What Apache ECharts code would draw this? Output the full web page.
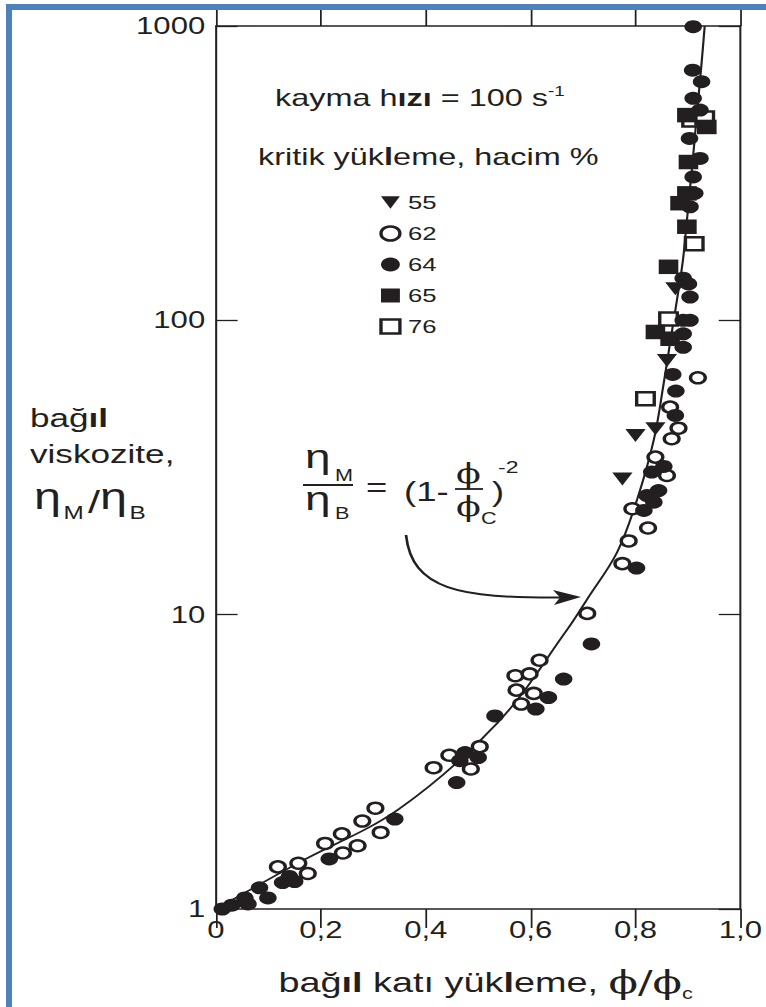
<!DOCTYPE html>
<html>
<head>
<meta charset="utf-8">
<script src="https://cdn.jsdelivr.net/npm/echarts@6/dist/echarts.min.js"></script>
<style>
html,body{margin:0;padding:0;background:#fff;width:766px;height:1007px;overflow:hidden;}
#chart{position:absolute;left:0;top:0;width:567px;height:1007px;transform:scaleX(1.351);transform-origin:0 0;}
#frame{position:absolute;left:6px;top:4px;width:900px;height:1100px;border-left:6px solid #4f81bd;border-top:6px solid #4f81bd;pointer-events:none;}
</style>
</head>
<body>
<div id="chart"></div>
<div id="frame"></div>
<script>
// ---- data (relative loading phi/phi_c, relative viscosity eta_M/eta_B) ----
const xTickLabels = ['0', '0,2', '0,4', '0,6', '0,8', '1,0'];
const yTickLabels = ['1', '10', '100', '1000'];
const legendNames = ['55', '62', '64', '65', '76'];

const load55 = [[0.775,28.9],[0.800,40.6],[0.838,42.8],[0.860,73],[0.876,128]];

const load62 = [
  [0.118,1.39],[0.157,1.43],[0.175,1.32],[0.208,1.67],[0.240,1.80],[0.242,1.55],[0.270,1.64],[0.279,1.99],[0.304,2.20],[0.314,1.82],
  [0.415,3.02],[0.445,3.33],[0.486,2.99],[0.503,3.56],[0.571,6.2],[0.573,5.54],[0.582,4.97],[0.598,6.29],[0.606,5.40],[0.617,7.0],
  [0.708,10.1],[0.775,14.9],[0.787,17.8],[0.794,22.9],[0.824,19.7],[0.838,34.3],[0.860,29.7],[0.869,39.6],[0.882,43.0],[0.866,50.7],[0.919,63.8]
];

const load64 = [
  [0.012,1.0],[0.030,1.03],[0.055,1.09],[0.061,1.04],[0.083,1.18],[0.099,1.09],[0.127,1.23],[0.140,1.29],[0.150,1.24],[0.216,1.48],
  [0.341,2.02],[0.459,2.69],[0.465,3.19],[0.475,3.40],[0.500,3.27],[0.532,4.53],[0.610,4.78],[0.634,5.23],[0.663,6.04],[0.716,7.95],
  [0.802,14.4],[0.816,22.6],[0.822,25.4],[0.835,24.1],[0.844,26.4],[0.831,30.5],[0.854,31.9],[0.876,47.5],[0.877,57.5],[0.871,65.5],
  [0.891,81],[0.891,90],[0.891,100],[0.904,100],[0.904,120],[0.901,133],[0.891,139],[0.904,243],[0.913,270],[0.910,307],
  [0.923,355],[0.903,415],[0.923,518],[0.910,568],[0.926,647],[0.909,708],[0.910,995]
];

const load65 = [[0.838,91.3],[0.866,86.6],[0.863,152],[0.898,208],[0.885,250],[0.898,270],[0.901,345],[0.936,454],[0.898,498]];

const load76 = [[0.819,54.1],[0.863,101],[0.912,182],[0.907,479],[0.932,487]];

// fitted curve
const curvePhi = [0, 0.159, 0.348, 0.538, 0.670, 0.708, 0.765, 0.803, 0.835, 0.854, 0.866, 0.879, 0.892, 0.926, 0.932];
const curveEta = [1, 1.44, 2.18, 4.31, 8.91, 11.3, 16.3, 24.6, 39.3, 61.4, 84, 117, 169, 748, 1000];

// ---- styling ----
const INK = '#231f20';
const SANS = 'Liberation Sans';
const SERIF = 'DejaVu Serif';
const S = 1.351; // horizontal stretch of the original figure
const u = v => v / S;
const triPath = 'path://M0,0L20,0L10,18Z';

const curve = curvePhi.map((p, i) => [p, curveEta[i]]);

function T(x, y, text, size, extra) {
  return {
    type: 'text', x: x, y: y, silent: true, z: 50,
    style: Object.assign({ text: text, fontSize: size, fontFamily: SANS, fill: INK, align: 'left', verticalAlign: 'middle' }, (extra || {}))
  };
}
function L(x1, y1, x2, y2, w) {
  return { type: 'line', silent: true, z: 50, shape: { x1: x1, y1: y1, x2: x2, y2: y2 }, style: { stroke: INK, lineWidth: w } };
}

const axisLineStyle = { show: true, onZero: false, lineStyle: { color: INK, width: 1.5 } };
const tickStyle = { color: INK, width: 1.3 };

const chart = echarts.init(document.getElementById('chart'), null, { renderer: 'svg' });

const option = {
  animation: false,
  backgroundColor: 'transparent',
  textStyle: { fontFamily: SANS, color: INK },
  grid: { left: u(216), top: 26, width: u(744) - u(216), height: 884, containLabel: false },
  xAxis: [
    {
      type: 'value', min: 0, max: 1, interval: 0.2, position: 'bottom',
      axisLine: axisLineStyle,
      axisTick: { show: true, inside: false, length: 19, lineStyle: tickStyle },
      splitLine: { show: false },
      axisLabel: {
        fontSize: 23, color: INK, fontFamily: SANS, margin: 10,
        formatter: v => xTickLabels[Math.round(v / 0.2)] || ''
      },
      name: '{a|bağ}{b|ıl}{a| katı yük}{b|l}{a|eme, }{p|ϕ/ϕ}{c|c}',
      nameLocation: 'middle', nameGap: 53,
      nameTextStyle: {
        padding: [0, 0, 0, 11],
        rich: {
          a: { fontSize: 28, fontFamily: SANS, color: INK, lineHeight: 40, verticalAlign: 'middle' },
          b: { fontSize: 28, fontFamily: SANS, fontWeight: 'bold', color: INK, lineHeight: 40, verticalAlign: 'middle' },
          p: { fontSize: 32, fontFamily: SERIF, color: INK, lineHeight: 40, verticalAlign: 'middle' },
          c: { fontSize: 16, fontFamily: SANS, color: INK, lineHeight: 18, verticalAlign: 'bottom' }
        }
      }
    },
    {
      type: 'value', min: 0, max: 1, interval: 0.2, position: 'top',
      axisLine: axisLineStyle,
      axisTick: { show: true, inside: false, length: 18, lineStyle: tickStyle },
      splitLine: { show: false },
      axisLabel: { show: false }
    }
  ],
  yAxis: [
    {
      type: 'log', logBase: 10, min: 1, max: 1000, position: 'left',
      axisLine: axisLineStyle,
      axisTick: { show: true, inside: true, length: 16, lineStyle: tickStyle },
      minorTick: { show: false },
      splitLine: { show: false },
      axisLabel: {
        fontSize: 23, color: INK, fontFamily: SANS, margin: 8,
        formatter: v => yTickLabels[Math.round(Math.log10(v))] || ''
      }
    },
    {
      type: 'log', logBase: 10, min: 1, max: 1000, position: 'right',
      axisLine: axisLineStyle,
      axisTick: { show: true, inside: true, length: 16, lineStyle: tickStyle },
      minorTick: { show: false },
      splitLine: { show: false },
      axisLabel: { show: false }
    }
  ],
  legend: {
    orient: 'vertical', left: u(382) - 7, top: 188,
    itemWidth: 14, itemHeight: 14, itemGap: 12,
    selectedMode: false,
    textStyle: { fontFamily: SANS, fontSize: 19, color: INK, padding: [0, 0, 0, 1] },
    data: [
      { name: legendNames[0], icon: triPath, itemStyle: { color: INK, borderWidth: 0 } },
      { name: legendNames[1], icon: 'circle', itemStyle: { color: '#fff', borderColor: INK, borderWidth: 2.5 } },
      { name: legendNames[2], icon: 'circle', itemStyle: { color: INK, borderWidth: 0 } },
      { name: legendNames[3], icon: 'rect', itemStyle: { color: INK, borderWidth: 0 } },
      { name: legendNames[4], icon: 'rect', itemStyle: { color: '#fff', borderColor: INK, borderWidth: 2.5 } }
    ]
  },
  series: [
    {
      name: 'fit', type: 'line', data: curve, showSymbol: false, symbol: 'none',
      smooth: 0.35, silent: true, z: 1,
      lineStyle: { color: INK, width: 1.6 }
    },
    {
      name: legendNames[4], type: 'scatter', data: load76, symbol: 'rect', symbolSize: 13, z: 2,
      itemStyle: { color: '#fff', borderColor: INK, borderWidth: 2.5, opacity: 1 }
    },
    {
      name: legendNames[1], type: 'scatter', data: load62, symbol: 'circle', symbolSize: 11, z: 3,
      itemStyle: { color: '#fff', borderColor: INK, borderWidth: 2.5, opacity: 1 }
    },
    {
      name: legendNames[0], type: 'scatter', data: load55, symbol: triPath, symbolSize: [15, 13], z: 4,
      itemStyle: { color: INK, opacity: 1 }
    },
    {
      name: legendNames[3], type: 'scatter', data: load65, symbol: 'rect', symbolSize: 14.5, z: 4,
      itemStyle: { color: INK, opacity: 1 }
    },
    {
      name: legendNames[2], type: 'scatter', data: load64, symbol: 'circle', symbolSize: 13, z: 5,
      itemStyle: { color: INK, opacity: 1 }
    }
  ],
  graphic: [
    // header texts
    T(u(275), 98, '{a|kayma h}{b|ızı}{a| = 100 s}{s|-1}', 24, {
      rich: {
        a: { fontSize: 24, fontFamily: SANS, fill: INK, lineHeight: 28 },
        b: { fontSize: 24, fontFamily: SANS, fontWeight: 'bold', fill: INK, lineHeight: 28 },
        s: { fontSize: 14, fontFamily: SANS, fill: INK, lineHeight: 19, verticalAlign: 'top' }
      }
    }),
    T(u(258), 157, '{a|kritik yük}{b|l}{a|eme, hacim %}', 24, {
      rich: {
        a: { fontSize: 24, fontFamily: SANS, fill: INK, lineHeight: 28 },
        b: { fontSize: 24, fontFamily: SANS, fontWeight: 'bold', fill: INK, lineHeight: 28 }
      }
    }),
    // y-axis title
    T(u(30), 418, '{a|bağ}{b|ıl}', 26, {
      rich: {
        a: { fontSize: 26, fontFamily: SANS, fill: INK, lineHeight: 30 },
        b: { fontSize: 26, fontFamily: SANS, fontWeight: 'bold', fill: INK, lineHeight: 30 }
      }
    }),
    T(u(30), 454, 'viskozite,', 26),
    T(u(34), 496, 'η', 36),
    T(u(63.5), 513, 'M', 18),
    T(u(88), 502, '/', 32),
    T(u(100), 496, 'η', 36),
    T(u(129.5), 513, 'B', 18),
    // equation
    T(u(305), 456, 'η', 34),
    T(u(335), 476, 'M', 16),
    L(u(303), 485, u(353), 485, 1.8),
    T(u(305), 498, 'η', 34),
    T(u(335), 514, 'B', 16),
    T(u(366), 488, '=', 27),
    T(u(404), 492, '(1-', 27),
    T(u(456), 474, 'ϕ', 27, { fontFamily: SERIF }),
    L(u(455), 489, u(483), 489, 1.8),
    T(u(456), 507, 'ϕ', 27, { fontFamily: SERIF }),
    T(u(481), 519, 'C', 16),
    T(u(492), 492, ')', 27),
    T(u(498), 467, '-2', 17),
    // arrow
    {
      type: 'bezierCurve', silent: true, z: 50,
      shape: { x1: u(406), y1: 535, cpx1: u(412), cpy1: 590, cpx2: u(460), cpy2: 598, x2: u(560), y2: 597.5 },
      style: { stroke: INK, lineWidth: 2, fill: null }
    },
    {
      type: 'polygon', silent: true, z: 50,
      shape: { points: [[u(581), 597], [u(553), 590], [u(560), 597.5], [u(554), 605]] },
      style: { fill: INK }
    }
  ]
};

chart.setOption(option);
</script>
</body>
</html>
